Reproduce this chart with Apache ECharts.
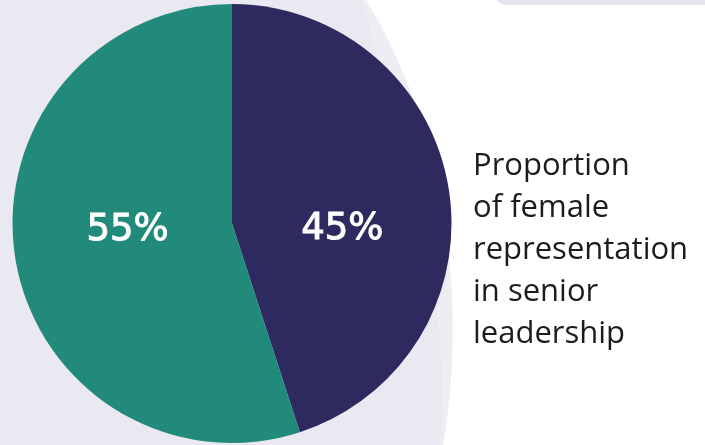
<!DOCTYPE html>
<html>
<head>
<meta charset="utf-8">
<script src="https://cdn.jsdelivr.net/npm/echarts@6/dist/echarts.min.js"></script>
<style>
html,body{margin:0;padding:0;background:#ffffff;}
#chart{width:705px;height:445px;}
</style>
</head>
<body>
<div id="chart"></div>
<script>
// Data
const categories = ['Female', 'Male'];
const values = [45, 55];
const sliceColors = ['#2D2A5F', '#218A7B'];
const captionLines = ['Proportion', 'of female', 'representation', 'in senior', 'leadership'];

const chart = echarts.init(document.getElementById('chart'), null, {renderer: 'canvas'});

const labelShift = [{dx: -1, dy: 24}, {dx: 7, dy: -11}];

// decorative background shape: left area bounded by a cubic bezier edge
function bgShape(p0, p1, p2, p3) {
  const pts = [[0, 0]];
  for (let i = 0; i <= 40; i++) {
    const t = i / 40, u = 1 - t;
    pts.push([
      u*u*u*p0[0] + 3*u*u*t*p1[0] + 3*u*t*t*p2[0] + t*t*t*p3[0],
      u*u*u*p0[1] + 3*u*u*t*p1[1] + 3*u*t*t*p2[1] + t*t*t*p3[1]
    ]);
  }
  pts.push([0, 445]);
  return pts;
}

const option = {
  backgroundColor: '#ffffff',
  animation: false,
  graphic: [
    {
      type: 'polygon', z: -10, silent: true,
      shape: {points: bgShape([366, 0], [440, 120], [470, 290], [443, 445])},
      style: {fill: '#EEEDF4'}
    },
    {
      type: 'polygon', z: -9, silent: true,
      shape: {points: bgShape([362, 0], [395, 120], [455, 290], [440, 445])},
      style: {fill: '#EAE9F1'}
    },
    {
      type: 'rect', z: -8, silent: true,
      shape: {x: 493, y: -30, width: 260, height: 35, r: 14},
      style: {fill: '#E4E4EE'}
    },
    {
      type: 'text', left: 473, top: 145,
      style: {
        text: captionLines.join('\n'),
        font: '400 31px "Open Sans", sans-serif',
        lineHeight: 42,
        fill: '#1C1C1C'
      }
    }
  ],
  series: [{
    type: 'pie',
    center: [232, 223.5],
    radius: [0, 219.5],
    startAngle: 90,
    clockwise: true,
    silent: true,
    label: {
      show: true,
      position: 'inside',
      formatter: '{c}%',
      color: '#ffffff',
      fontFamily: '"DejaVu Sans", sans-serif',
      fontWeight: 'normal',
      fontSize: 37,
      textBorderColor: '#ffffff',
      textBorderWidth: 1
    },
    labelLine: {show: false},
    labelLayout: function (p) { return labelShift[p.dataIndex]; },
    itemStyle: {borderWidth: 0},
    data: categories.map((c, i) => ({name: c, value: values[i], itemStyle: {color: sliceColors[i]}}))
  }]
};
chart.setOption(option);
</script>
</body>
</html>
